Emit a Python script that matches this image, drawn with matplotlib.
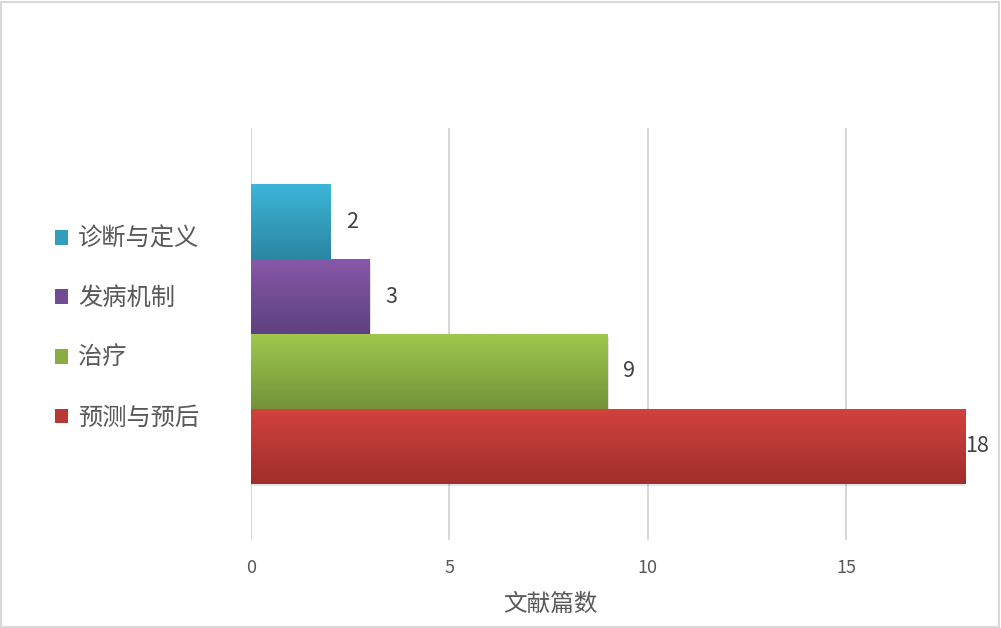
import matplotlib
matplotlib.use("Agg")
import matplotlib.pyplot as plt
from matplotlib.patches import Rectangle, Patch
import matplotlib.colors as mcolors
import numpy as np

plt.rcParams['font.family'] = ['Noto Sans CJK SC', 'DejaVu Sans']

# data, top to bottom
categories = ["诊断与定义", "发病机制", "治疗", "预测与预后"]
counts = [2, 3, 9, 18]
top_colors = ["#3DB5D8", "#8658A9", "#9FC74C", "#D1423D"]
bottom_colors = ["#2A87A2", "#5E417E", "#74933A", "#A02E2C"]
xticks = [0, 5, 10, 15]
xlabel = "文献篇数"

fig = plt.figure(figsize=(10.01, 6.28), dpi=100)
W, H = 1001, 628
ax = fig.add_axes([251 / W, (H - 540) / H, (965 - 251) / W, (540 - 128) / H])

n = len(categories)
ypos = [n - 1 - i for i in range(n)]

ax.set_xlim(0, 18)
ax.set_ylim(-1.25, n + 0.25)

for i, (c, v) in enumerate(zip(categories, counts)):
    y = ypos[i]
    t = np.array(mcolors.to_rgb(top_colors[i]))
    b = np.array(mcolors.to_rgb(bottom_colors[i]))
    f = np.linspace(0, 1, 64)[:, None]
    grad = (t * (1 - f) + b * f)[:, None, :]
    # faint shadow under the bar
    ax.add_patch(Rectangle((0.02, y - 0.5 - 0.035), v, 1.0, facecolor="#000000",
                           alpha=0.10, edgecolor="none", zorder=2))
    ax.imshow(grad, extent=[0, v, y - 0.5, y + 0.5], origin="upper",
              aspect="auto", zorder=3, interpolation="bilinear")
    off = 0 if v == max(counts) else 11
    ax.annotate(str(v), xy=(v, y), xytext=(off, 0), textcoords="offset points",
                ha="left", va="center", fontsize=15.5, color="#404040", zorder=4)

ax.set_xlim(0, 18)
ax.set_ylim(-1.25, n + 0.25)
ax.set_xticks(xticks)
ax.set_yticks([])
ax.grid(axis="x", color="#D0D0D0", linewidth=1.2, zorder=0)
ax.set_axisbelow(True)
for s in ax.spines.values():
    s.set_visible(False)
ax.tick_params(axis="x", length=0, pad=14, labelsize=13, labelcolor="#595959")

fig.text(550 / W, 1 - 604 / H, xlabel, ha="center", va="center",
         fontsize=17, color="#595959")

handles = [Patch(facecolor=mcolors.to_hex((np.array(mcolors.to_rgb(top_colors[i])) +
                                           np.array(mcolors.to_rgb(bottom_colors[i]))) / 2),
                 edgecolor="none") for i in range(n)]
fig.legend(handles, categories, loc="upper left", bbox_to_anchor=(33 / W, 1 - 204 / H),
           frameon=False, fontsize=17.5, labelcolor="#595959", handlelength=0.55,
           handleheight=0.55, handletextpad=0.4, labelspacing=1.38)

fig.add_artist(Rectangle((0.001, 0.0015), 0.997, 0.996, transform=fig.transFigure,
                         fill=False, edgecolor="#D9D9D9", linewidth=1.5))

fig.savefig("out.png", dpi=100)
